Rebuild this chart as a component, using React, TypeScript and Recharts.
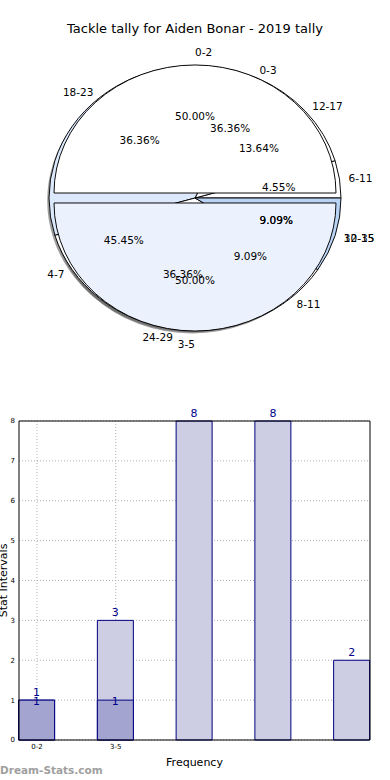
import { Bar, BarChart, CartesianGrid, Cell, LabelList, Pie, PieChart, XAxis, YAxis } from "recharts";

// three pies drawn over each other, plus the frequency bars under them
const threeGameBins = ["0-2", "3-5"];
const threeGameCounts = [1, 1];
const sixGameBins = ["6-11", "12-17", "18-23", "24-29", "30-35"];
const sixGameCounts = [1, 3, 8, 8, 2];
const fourGameBins = ["0-3", "4-7", "8-11", "12-15"];
const fourGameCounts = [8, 10, 2, 2];
const yTicks = [0, 1, 2, 3, 4, 5, 6, 7, 8];

const threeColors = ["#ffffff", "#ebf1fd"];
const sixColors = ["#ffffff", "#ffffff", "#dce8fb", "#ffffff", "#b9d3f5"];
const fourColors = ["#ffffff", "#ebf1fd", "#ffffff", "#b9d3f5"];

const CX = 195;
const CY = 198;
const SQUASH = 0.908;
const FONT = "DejaVu Sans, sans-serif";

const threeRows = threeGameBins.map((name, i) => ({ name, value: threeGameCounts[i] }));
const sixRows = sixGameBins.map((name, i) => ({ name, value: sixGameCounts[i] }));
const fourRows = fourGameBins.map((name, i) => ({ name, value: fourGameCounts[i] }));
const barRows = sixGameCounts.map((season, i) => ({
  slot: i,
  season,
  career: threeGameCounts[i] ?? null,
}));

function wedgeLabel(only: number | null) {
  return (p: any) => {
    if (only !== null && p.index !== only) return null;
    const a = (p.midAngle * Math.PI) / 180;
    const cos = Math.cos(a);
    const sin = Math.sin(a);
    const r = Math.min(p.outerRadius, 141);
    const oy = CY + (p.cy - CY) * SQUASH;
    const text = { fontFamily: FONT, fontSize: 10.5, fill: "#000", dominantBaseline: "central" as const };
    return (
      <g>
        <text x={p.cx + r * 1.1 * cos} y={oy - r * 1.1 * sin * SQUASH} textAnchor={cos > 0 ? "start" : "end"} {...text}>
          {p.name}
        </text>
        <text x={p.cx + r * 0.6 * cos} y={oy - r * 0.6 * sin * SQUASH} textAnchor="middle" {...text}>
          {(p.percent * 100).toFixed(2)}%
        </text>
      </g>
    );
  };
}

function TallyPie() {
  const shadow = { fill: "#4d4d4d", fillOpacity: 0.55, stroke: "none" };
  return (
    <div className="tally-pie" style={{ position: "absolute", left: 0, top: 0 }}>
      <style>{`.tally-pie .recharts-sector { transform-box: view-box; transform-origin: ${CX}px ${CY}px; transform: scaleY(${SQUASH}); }`}</style>
      <PieChart width={390} height={380} margin={{ top: 0, right: 0, bottom: 0, left: 0 }}>
        {/* shadows */}
        <Pie data={sixRows} dataKey="value" cx={CX - 2.8} cy={CY + 2.8} outerRadius={145} isAnimationActive={false} label={false} labelLine={false}>
          {sixRows.map((r) => <Cell key={r.name} {...shadow} />)}
        </Pie>
        <Pie data={threeRows} dataKey="value" cx={CX - 2.8} cy={CY - 2.7} outerRadius={141} isAnimationActive={false} label={false} labelLine={false}>
          {threeRows.map((r, i) => <Cell key={r.name} {...(i === 0 ? shadow : { fill: "none", stroke: "none" })} />)}
        </Pie>
        <Pie data={threeRows} dataKey="value" cx={CX - 2.8} cy={CY + 8.3} outerRadius={141} isAnimationActive={false} label={false} labelLine={false}>
          {threeRows.map((r, i) => <Cell key={r.name} {...(i === 1 ? shadow : { fill: "none", stroke: "none" })} />)}
        </Pie>

        <Pie data={fourRows} dataKey="value" nameKey="name" cx={CX} cy={CY} outerRadius={144} stroke="#000" strokeWidth={1} isAnimationActive={false} label={false} labelLine={false}>
          {fourRows.map((r, i) => <Cell key={r.name} fill={fourColors[i]} />)}
        </Pie>
        <Pie data={sixRows} dataKey="value" nameKey="name" cx={CX} cy={CY} outerRadius={146} stroke="#000" strokeWidth={1} isAnimationActive={false} label={false} labelLine={false}>
          {sixRows.map((r, i) => <Cell key={r.name} fill={sixColors[i]} />)}
        </Pie>

        {/* exploded halves */}
        <Pie data={threeRows} dataKey="value" nameKey="name" cx={CX} cy={CY - 5.5} outerRadius={141} stroke="#000" strokeWidth={1} isAnimationActive={false} label={wedgeLabel(0)} labelLine={false}>
          {threeRows.map((r, i) => <Cell key={r.name} fill={i === 0 ? threeColors[i] : "none"} stroke={i === 0 ? "#000" : "none"} />)}
        </Pie>
        <Pie data={threeRows} dataKey="value" nameKey="name" cx={CX} cy={CY + 5.5} outerRadius={141} stroke="#000" strokeWidth={1} isAnimationActive={false} label={wedgeLabel(1)} labelLine={false}>
          {threeRows.map((r, i) => <Cell key={r.name} fill={i === 1 ? threeColors[i] : "none"} stroke={i === 1 ? "#000" : "none"} />)}
        </Pie>

        {/* labels of the pies underneath, kept on top */}
        <Pie data={fourRows} dataKey="value" nameKey="name" cx={CX} cy={CY} outerRadius={141} isAnimationActive={false} label={wedgeLabel(null)} labelLine={false}>
          {fourRows.map((r) => <Cell key={r.name} fill="none" stroke="none" />)}
        </Pie>
        <Pie data={sixRows} dataKey="value" nameKey="name" cx={CX} cy={CY} outerRadius={141} isAnimationActive={false} label={wedgeLabel(null)} labelLine={false}>
          {sixRows.map((r) => <Cell key={r.name} fill="none" stroke="none" />)}
        </Pie>
      </PieChart>
    </div>
  );
}

function FrequencyBars() {
  const tickStyle = { fontFamily: FONT, fontSize: 7, fill: "#000" };
  return (
    <div style={{ position: "absolute", left: 0, top: 380 }}>
      <BarChart width={390} height={400} data={barRows} margin={{ top: 40, right: 19, bottom: 0, left: 0 }} barGap={-36}>
        <CartesianGrid stroke="#b0b0b0" strokeDasharray="1 2" verticalValues={[0, 1]} />
        <XAxis
          dataKey="slot"
          type="category"
          height={40}
          padding={{ left: -21.4, right: -21.4 }}
          tick={tickStyle}
          tickLine={false}
          tickSize={0}
          tickMargin={4}
          axisLine={{ stroke: "#000" }}
          tickFormatter={(v: any) => threeGameBins[v] ?? ""}
          label={{ value: "Frequency", position: "insideBottom", offset: 14, fontFamily: FONT, fontSize: 11, fill: "#000" }}
        />
        <XAxis xAxisId="frame" dataKey="slot" type="category" orientation="top" height={1} tick={false} tickLine={false} axisLine={{ stroke: "#000" }} />
        <YAxis
          domain={[0, 8]}
          ticks={yTicks}
          width={19}
          tick={tickStyle}
          tickLine={false}
          tickSize={0}
          tickMargin={4}
          axisLine={{ stroke: "#000" }}
          label={{ value: "Stat Intervals", angle: -90, position: "center", dx: -6, fontFamily: FONT, fontSize: 11, fill: "#000" }}
        />
        <YAxis yAxisId="frame" orientation="right" domain={[0, 8]} width={1} tick={false} tickLine={false} axisLine={{ stroke: "#000" }} />
        <Bar dataKey="season" barSize={36} fill="#cdcde4" stroke="#00007f" strokeWidth={1} isAnimationActive={false}>
          <LabelList dataKey="season" position="top" offset={4} fill="#00008b" fontSize={11} fontFamily={FONT} />
        </Bar>
        <Bar dataKey="career" barSize={36} fill="#a4a4d0" stroke="#00007f" strokeWidth={1} isAnimationActive={false}>
          <LabelList dataKey="career" position="top" offset={-5} fill="#00008b" fontSize={11} fontFamily={FONT} />
        </Bar>
      </BarChart>
    </div>
  );
}

export default function App() {
  return (
    <div style={{ position: "relative", width: 390, height: 780, background: "#fff", overflow: "hidden" }}>
      <style>{"body{margin:0}"}</style>
      <div style={{ position: "absolute", top: 21, left: 0, width: 390, textAlign: "center", fontFamily: FONT, fontSize: 13, color: "#000" }}>
        Tackle tally for Aiden Bonar - 2019 tally
      </div>
      <TallyPie />
      <FrequencyBars />
      <div style={{ position: "absolute", left: 0, top: 764, fontFamily: FONT, fontWeight: "bold", fontSize: 10.5, color: "#a0a0a0" }}>
        Dream-Stats.com
      </div>
    </div>
  );
}
